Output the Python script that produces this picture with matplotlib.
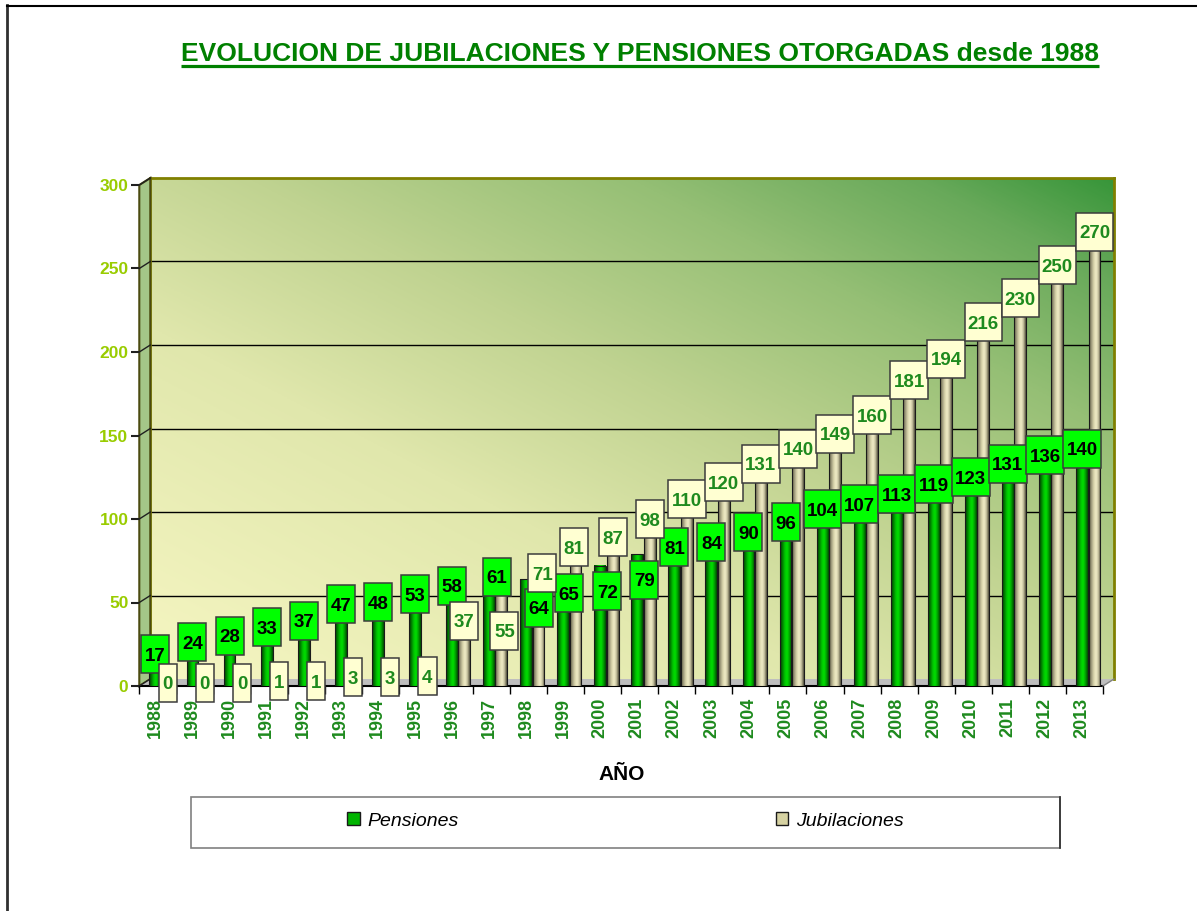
import numpy as np
import matplotlib
matplotlib.use('Agg')
import matplotlib.pyplot as plt
from matplotlib.colors import LinearSegmentedColormap
from matplotlib.patches import Rectangle, Polygon, Patch
from matplotlib.transforms import ScaledTranslation

# ---------------- data ----------------
years = [str(y) for y in range(1988, 2014)]
pensiones = [17, 24, 28, 33, 37, 47, 48, 53, 58, 61, 64, 65, 72, 79, 81, 84,
             90, 96, 104, 107, 113, 119, 123, 131, 136, 140]
jubilaciones = [0, 0, 0, 1, 1, 3, 3, 4, 37, 55, 71, 81, 87, 98, 110, 120,
                131, 140, 149, 160, 181, 194, 216, 230, 250, 270]
yticks = [0, 50, 100, 150, 200, 250, 300]
series_names = ['Pensiones', 'Jubilaciones']
title = 'EVOLUCION DE JUBILACIONES Y PENSIONES OTORGADAS desde 1988'
xlabel = 'AÑO'

# manual data-label nudges (pixels: dx right, dy down), as in the original chart
label_nudge = {
    (0, 9): (8, -4), (0, 10): (13, 32), (0, 11): (6, 19), (0, 12): (7, 29), (0, 13): (7, 29),
    (1, 9): (3, 40), (1, 10): (4, 9), (1, 11): (-2, 0),
}

plt.rcParams['font.family'] = ['Liberation Sans', 'DejaVu Sans']

W, H = 1197, 911
fig = plt.figure(figsize=(W / 100, H / 100), dpi=100)


def rect(x0, y0, x1, y1):
    return [x0 / W, 1 - y1 / H, (x1 - x0) / W, (y1 - y0) / H]


FX0, FX1, FY0, FY1 = 139.3, 1103.0, 185.0, 686.0   # front plane (pixels)
DX, DY = 11.0, -7.0                                # depth offset

axb = fig.add_axes(rect(FX0 + DX, FY0 + DY, FX1 + DX, FY1 + DY), zorder=0)
ov = fig.add_axes([0, 0, 1, 1], zorder=1)
ov.set_xlim(0, W)
ov.set_ylim(H, 0)
ov.axis('off')
ax = fig.add_axes(rect(FX0, FY0, FX1, FY1), zorder=2)
ax.patch.set_alpha(0)

# ---------------- back wall ----------------
n = 300
u = np.linspace(0, 1, n)
U, V = np.meshgrid(u, u)
T = (U + V) / 2
bg_cmap = LinearSegmentedColormap.from_list(
    'bg', [(0, '#F6F6C2'), (0.35, '#E0E7AC'), (0.55, '#C0D391'),
           (0.75, '#95BF75'), (0.9, '#68A95A'), (1, '#38963A')])
axb.imshow(T, cmap=bg_cmap, extent=(0, 1, 0, 1), transform=axb.transAxes,
           origin='lower', aspect='auto', interpolation='bilinear', zorder=0)
axb.set_xlim(0, 1)
axb.set_ylim(0, 300)
axb.set_yticks(yticks[1:-1])
axb.set_xticks([])
axb.tick_params(length=0, labelleft=False)
axb.grid(axis='y', color='black', lw=1)
for s in ['top', 'right', 'left']:
    axb.spines[s].set_color('#808000')
    axb.spines[s].set_linewidth(2)
axb.spines['bottom'].set_visible(False)

# ---------------- side wall and floor ----------------
ov.add_patch(Polygon([(FX0, FY1), (FX0, FY0), (FX0 + DX, FY0 + DY), (FX0 + DX, FY1 + DY)],
                     closed=True, fc='#A4C688', ec='#4A4A10', lw=1.5))
ov.add_patch(Polygon([(FX0, FY1), (FX1, FY1), (FX1 + DX, FY1 + DY), (FX0 + DX, FY1 + DY)],
                     closed=True, fc='#BEBEBE', ec='none'))
ov.plot([FX0, FX1], [FY1, FY1], color='black', lw=1.5)
ov.plot([FX1, FX1 + DX], [FY1, FY1 + DY], color='#808080', lw=1)

# ---------------- main axes ----------------
xs = np.arange(len(years))
bw = 0.32
po, jo, jlo = -0.065, 0.27, 0.27

pc = LinearSegmentedColormap.from_list(
    'pc', ['#003C00', '#007A00', '#00C400', '#00E000', '#00A000', '#004800'])
jc = LinearSegmentedColormap.from_list(
    'jc', ['#5E5C46', '#A09C7C', '#D8D4AC', '#F2EEC8', '#C4C09C', '#4C4A38'])
g = np.linspace(0, 1, 64)[None, :]

for i, (p, j) in enumerate(zip(pensiones, jubilaciones)):
    for val, off, cm in ((p, po, pc), (j, jo, jc)):
        if val <= 0:
            continue
        x0 = xs[i] + off - bw / 2
        ax.imshow(g, cmap=cm, extent=(x0, x0 + bw, 0, val), aspect='auto',
                  interpolation='bicubic', zorder=2)
        ax.add_patch(Rectangle((x0, 0), bw, val, fill=False, ec='#1a1a1a',
                               lw=0.8, zorder=2.1))

ax.set_xlim(-0.5, 25.5)
ax.set_ylim(0, 300)

px_per_x = (FX1 - FX0) / 26
px_per_y = (FY1 - FY0) / 300
box_h = 38 / px_per_y
FS = 13.5

for i, (p, j) in enumerate(zip(pensiones, jubilaciones)):
    for k, (val, off, fc, tc, z) in enumerate(((p, po, '#00FF00', 'black', 5),
                                               (j, jlo, '#FFFFD2', '#1E8A1E', 6))):
        ndx, ndy = label_nudge.get((k, i), (0, 0))
        bt = ax.transData + ScaledTranslation(ndx / 100, (3.5 - ndy) / 100,
                                              fig.dpi_scale_trans)
        tt = bt + ScaledTranslation(0, -0.36 * FS / 72, fig.dpi_scale_trans)
        s = str(val)
        w = (9.5 * len(s) + 9) / px_per_x
        xc = xs[i] + off
        ax.add_patch(Rectangle((xc - w / 2, val - box_h / 2), w, box_h, fc=fc,
                               ec='#3C3C3C', lw=1.1, zorder=z, transform=bt,
                               clip_on=False))
        ax.text(xc, val, s, ha='center', va='baseline', fontsize=FS,
                fontweight='bold', color=tc, zorder=z + 0.1, transform=tt,
                clip_on=False)

ax.set_yticks(yticks)
ax.set_yticklabels([str(v) for v in yticks])
ax.tick_params(axis='y', length=5.8, width=1.5, color='#202020', pad=2,
               labelsize=12.5, labelcolor='#99CC00')
for lbl in ax.get_yticklabels():
    lbl.set_fontweight('bold')

ax.set_xticks(xs + po)
ax.set_xticklabels(years, rotation=90)
ax.set_xticks(np.arange(-0.5, 26, 1), minor=True)
ax.tick_params(axis='x', which='major', length=0, pad=8.6, labelsize=13,
               labelcolor='#1E8A1E')
ax.tick_params(axis='x', which='minor', length=5.5, width=1, color='black')
for lbl in ax.get_xticklabels():
    lbl.set_fontweight('bold')
for s in ax.spines.values():
    s.set_visible(False)

# diagonal tick connectors into the side wall
for v in yticks:
    xd, yd = ax.transData.transform((-0.5, v))
    ov.plot([xd, xd + DX], [H - yd, H - yd + DY], color='#202020', lw=1)

# ---------------- texts ----------------
fig.text(622 / W, 1 - 775 / H, xlabel, ha='center', va='center', fontsize=15,
         fontweight='bold', color='black')
t = fig.text(640 / W, 1 - 61 / H, title, ha='center', va='baseline', fontsize=19,
             fontweight='bold', color='#008000')
fig.canvas.draw()
bb = t.get_window_extent()
ov.plot([bb.x0, bb.x1], [66, 66], color='#008000', lw=2.3, solid_capstyle='butt')

# ---------------- legend ----------------
ov.add_patch(Rectangle((191, 797), 869, 51, fill=False, ec='#808080', lw=1.2))
ov.plot([1060, 1060], [797, 848], color='#303030', lw=1.2)
handles = [Patch(fc='#00B400', ec='#1a1a1a', lw=1),
           Patch(fc='#D6D2A2', ec='#1a1a1a', lw=1)]
ov.legend(handles, series_names, loc='center', bbox_to_anchor=(625.5 / W, 1 - 821 / H),
          bbox_transform=fig.transFigure, ncol=2, frameon=False,
          prop={'style': 'italic', 'size': 14}, handlelength=0.65, handleheight=0.65,
          handletextpad=0.4, columnspacing=16.3, borderpad=0)

# ---------------- border ----------------
ov.plot([7, 7], [5, H], color='#303030', lw=2)
ov.plot([7, W], [5.5, 5.5], color='black', lw=1.5)

fig.savefig('out.png', dpi=100)
